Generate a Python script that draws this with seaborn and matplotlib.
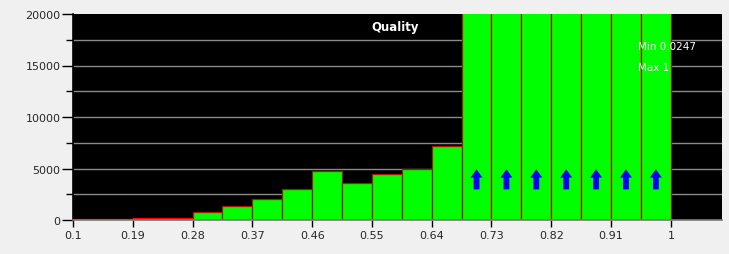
import numpy as np
import pandas as pd
import matplotlib
matplotlib.use("Agg")
import matplotlib.pyplot as plt
import seaborn as sns

# ---- data ----
bin_edges = [0.1, 0.145, 0.19, 0.235, 0.28, 0.325, 0.37, 0.415, 0.46, 0.505,
             0.55, 0.595, 0.64, 0.685, 0.73, 0.775, 0.82, 0.865, 0.91, 0.955, 1.0]
counts = [80, 80, 220, 220, 800, 1400, 2050, 3000, 4750, 3600,
          4450, 5000, 7150, 26000, 28000, 30000, 31000, 29000, 27000, 25000]
x_ticks = [0.1, 0.19, 0.28, 0.37, 0.46, 0.55, 0.64, 0.73, 0.82, 0.91, 1.0]
x_tick_labels = ["0.1", "0.19", "0.28", "0.37", "0.46", "0.55", "0.64", "0.73", "0.82", "0.91", "1"]
y_ticks = [0, 5000, 10000, 15000, 20000]
y_tick_labels = ["0", "5000", "10000", "15000", "20000"]
y_max = 20000
title = "Quality"
stats = ["Min 0.0247", "Max 1"]

centers = [(a + b) / 2 for a, b in zip(bin_edges[:-1], bin_edges[1:])]
df = pd.DataFrame({"quality": centers, "count": counts})

sns.set_style("white")
plt.rcParams["font.family"] = ["DejaVu Sans"]

fig = plt.figure(figsize=(7.29, 2.55), dpi=100, facecolor="#f0f0f0")
ax = fig.add_axes([73 / 729, 1 - 221 / 255, (722 - 73) / 729, (221 - 15) / 255])
ax.set_facecolor("black")

# grid lines
for g in np.arange(2500, y_max, 2500):
    ax.axhline(g, color="#8a8a8a", lw=1.0, zorder=0.5)

sns.histplot(data=df, x="quality", weights="count", bins=bin_edges, ax=ax,
             color="#00ff00", alpha=1, edgecolor="#a81800", linewidth=0.9, zorder=2)

# first bins shown as red lines (too small to see)
for p, c in zip(ax.patches, counts):
    if c < 400:
        p.set_facecolor("#ff0000")
        p.set_edgecolor("#ff0000")

ax.set_xlim(0.1, 1.077)
ax.set_ylim(0, y_max)

# arrows for off-scale bars
for cx, c in zip(centers, counts):
    if c > y_max:
        ax.annotate("", xy=(cx, 5200), xytext=(cx, 2700),
                    arrowprops=dict(arrowstyle="simple,head_width=0.85,head_length=0.6,tail_width=0.42",
                                    color="#0000ff", lw=0), zorder=5)

ax.set_xticks(x_ticks)
ax.set_xticklabels(x_tick_labels)
ax.set_yticks(y_ticks)
ax.set_yticklabels(y_tick_labels)
ax.set_yticks(np.arange(0, y_max + 1, 2500), minor=True)
ax.tick_params(axis="y", which="major", length=8, width=1, color="black", labelsize=8, pad=1, left=True)
ax.tick_params(axis="y", which="minor", length=5, width=1, color="black", left=True)
ax.tick_params(axis="x", which="major", length=5, width=1, color="black", labelsize=8, pad=2, bottom=True)
ax.set_xlabel("")
ax.set_ylabel("")

for s in ["top", "right"]:
    ax.spines[s].set_visible(False)
ax.spines["left"].set_color("black")
ax.spines["left"].set_linewidth(1.2)
ax.spines["bottom"].set_color("#7a7a7a")
ax.spines["bottom"].set_linewidth(1.2)

ax.text(0.585, 0.937, title, transform=ax.get_xaxis_transform(), color="white",
        fontsize=8.5, fontweight="bold", ha="center", va="center", zorder=6)
ax.text(0.95, 0.845, stats[0], transform=ax.get_xaxis_transform(), color="white",
        fontsize=7.5, ha="left", va="center", zorder=6)
ax.text(0.95, 0.743, stats[1], transform=ax.get_xaxis_transform(), color="white",
        fontsize=7.5, ha="left", va="center", zorder=6)

fig.savefig("out.png", dpi=100, facecolor=fig.get_facecolor())
